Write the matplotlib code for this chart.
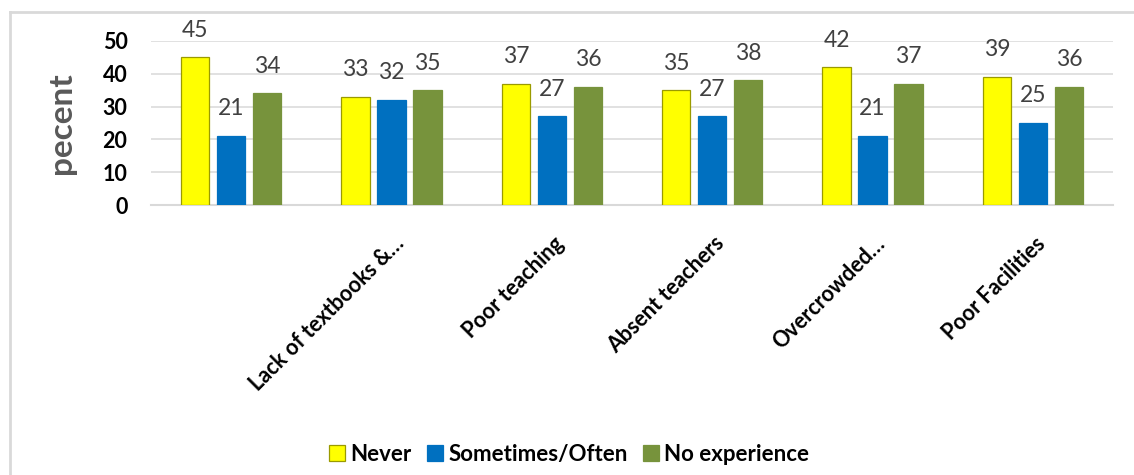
import matplotlib
matplotlib.use("Agg")
import matplotlib.pyplot as plt
import numpy as np
from matplotlib.lines import Line2D

plt.rcParams["font.family"] = ["Lato", "DejaVu Sans"]

# Data
CATEGORIES = ["", "Lack of textbooks &\u2026", "Poor teaching", "Absent teachers",
              "Overcrowded\u2026", "Poor Facilities"]
NEVER = [45, 33, 37, 35, 42, 39]
SOMETIMES = [21, 32, 27, 27, 21, 25]
NO_EXPERIENCE = [34, 35, 36, 38, 37, 36]
SERIES_NAMES = ["Never", "Sometimes/Often", "No experience"]
Y_TICKS = [0, 10, 20, 30, 40, 50]

YELLOW = "#FFFF00"
BLUE = "#0070C0"
GREEN = "#77933C"
GRID = "#D9D9D9"

fig = plt.figure(figsize=(11.34, 4.75), dpi=100)
ax = fig.add_axes([0.1332, 0.5684, 0.8483, 0.3453])

x = np.arange(len(CATEGORIES))
step = 0.2245
width = 0.178
series = [(NEVER, YELLOW, "#9A9A00"), (SOMETIMES, BLUE, BLUE), (NO_EXPERIENCE, GREEN, GREEN)]
for i, (vals, col, edge) in enumerate(series):
    bars = ax.bar(x + (i - 1) * step, vals, width=width, color=col,
                  edgecolor=edge, linewidth=0.9, zorder=3)
    for b, v in zip(bars, vals):
        ax.annotate(str(v), (b.get_x() + b.get_width() / 2, v), xytext=(0, 12),
                    textcoords="offset points", ha="center", va="bottom",
                    fontsize=16.5, color="#404040", annotation_clip=False)

ax.set_xlim(-0.5, len(CATEGORIES) - 0.5)
ax.set_ylim(0, 50)
ax.set_yticks(Y_TICKS)
ax.set_yticklabels([str(t) for t in Y_TICKS], fontsize=15.5, fontweight="bold")
ax.tick_params(axis="y", length=0, pad=17)
ax.grid(axis="y", color=GRID, linewidth=1.1, zorder=0)
for s in ["top", "right", "left"]:
    ax.spines[s].set_visible(False)
ax.spines["bottom"].set_color(GRID)
ax.spines["bottom"].set_linewidth(1.5)

ax.set_xticks(x + 0.01)
ax.set_xticklabels(CATEGORIES, rotation=45, ha="right", rotation_mode="anchor",
                   fontsize=15.5, fontweight="bold")
ax.tick_params(axis="x", length=0, pad=20)

ax.set_ylabel("pecent", fontsize=24, fontweight="bold", color="#595959", labelpad=19)

handles = [plt.Rectangle((0, 0), 1, 1, facecolor=c, edgecolor=e, linewidth=0.9)
           for _, c, e in series]
fig.legend(handles, SERIES_NAMES, loc="center", bbox_to_anchor=(0.502, 0.044),
           ncol=3, frameon=False, prop={"size": 16, "weight": "bold"},
           handlelength=0.7, handleheight=0.7, handletextpad=0.25, columnspacing=0.7)

# light outer frame of the chart area (only top and left visible)
fig.add_artist(Line2D([0.0088, 0.0088], [0, 0.975], color=GRID, linewidth=2,
                      transform=fig.transFigure))
fig.add_artist(Line2D([0.0088, 1.0], [0.975, 0.975], color=GRID, linewidth=2,
                      transform=fig.transFigure))

fig.savefig("out.png", dpi=100)
